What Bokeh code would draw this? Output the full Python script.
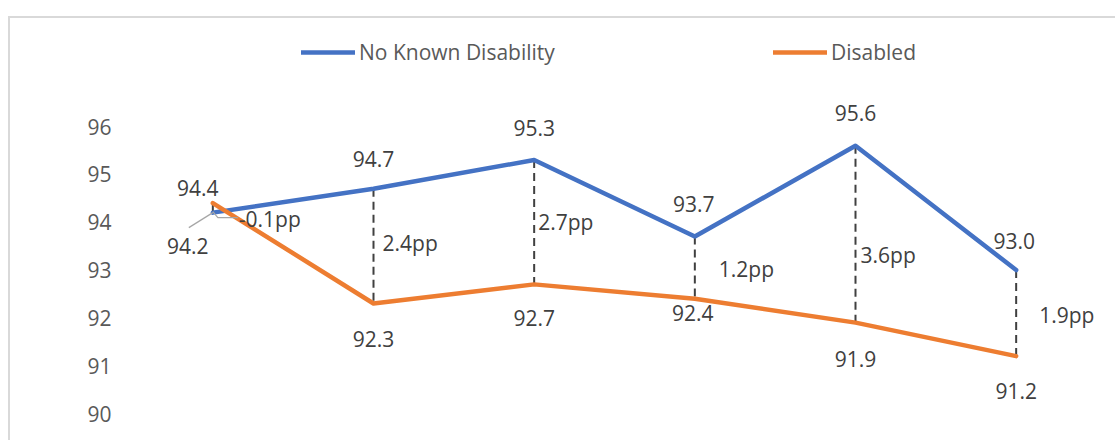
from bokeh.plotting import figure
from bokeh.models import Range1d, FixedTicker, Legend, LegendItem, ColumnDataSource
from bokeh.embed import file_html
from bokeh.resources import INLINE
from bokeh.core.properties import value

# ---------------- data ----------------
categories = ["1", "2", "3", "4", "5", "6"]
no_known_disability = [94.2, 94.7, 95.3, 93.7, 95.6, 93.0]
disabled = [94.4, 92.3, 92.7, 92.4, 91.9, 91.2]
gap_labels = ["-0.1pp", "2.4pp", "2.7pp", "1.2pp", "3.6pp", "1.9pp"]
y_ticks = [90, 91, 92, 93, 94, 95, 96]

# ---------------- styling / placement ----------------
BLUE = "#4472C4"
ORANGE = "#ED7D31"
LABEL = "#404040"
AXIS_TXT = "#595959"
FONT = "Open Sans"
FS = "21px"

blue_off = [(-25, 33), (0, -30), (0, -32), (-1, -33), (0, -33), (-2, -29)]
orange_off = [(-15, -15), (0, 35), (0, 34), (-2, 14), (0, 36), (0, 35)]
gap_off = [(26, 11), (9, -3), (4, 0), (24, 1), (5, 21), (23, 2)]

W, H = 1107, 424
ML, MR, MT, MB = 122, 21, 12, 0
fw, fh = W - ML - MR, H - MT - MB
x0, x1 = -0.5, 5.5
y0, y1 = 89.394, 98.008
px_x = fw / (x1 - x0)
px_y = fh / (y1 - y0)

p = figure(width=W, height=H, output_backend="svg", toolbar_location=None,
           x_range=Range1d(x0, x1), y_range=Range1d(y0, y1),
           min_border_left=ML, min_border_right=MR, min_border_top=MT, min_border_bottom=MB)
p.styles = {"margin-left": "8px", "margin-top": "16px", "overflow": "hidden",
            "border-left": "2px solid #d9d9d9", "border-top": "2px solid #d9d9d9"}
p.outline_line_color = None
p.grid.visible = False
p.xaxis.visible = False
p.yaxis.ticker = FixedTicker(ticks=y_ticks)
p.yaxis.axis_line_color = None
p.yaxis.major_tick_line_color = None
p.yaxis.minor_tick_line_color = None
p.yaxis.major_label_text_font = FONT
p.yaxis.major_label_text_font_size = FS
p.yaxis.major_label_text_color = AXIS_TXT
p.yaxis.major_label_standoff = 15
p.background_fill_color = "white"
p.border_fill_color = "white"

xs = list(range(len(categories)))
mids = [(a + b) / 2 for a, b in zip(no_known_disability, disabled)]

# dashed high-low lines
p.segment(x0=xs, y0=no_known_disability, x1=xs, y1=disabled,
          line_color="#404040", line_width=2, line_dash="8 5")

r_blue = p.line(xs, no_known_disability, line_color=BLUE, line_width=4.5,
                line_cap="round", line_join="round")
r_orange = p.line(xs, disabled, line_color=ORANGE, line_width=4.5,
                  line_cap="round", line_join="round")

# leader lines for the first point's labels
lx = xs[0]
p.segment(x0=[lx], y0=[no_known_disability[0]],
          x1=[lx - 24 / px_x], y1=[no_known_disability[0] - 15 / px_y],
          line_color="#a6a6a6", line_width=1.2)
p.line([lx, lx + 5 / px_x, lx + 25 / px_x],
       [no_known_disability[0] + 1 / px_y, no_known_disability[0] - 5 / px_y,
        no_known_disability[0] - 5 / px_y],
       line_color="#a6a6a6", line_width=1.2)

def add_labels(ys, texts, offs, align="center"):
    src = ColumnDataSource(dict(x=xs, y=ys, t=texts,
                                dx=[o[0] for o in offs], dy=[o[1] for o in offs]))
    p.text(x="x", y="y", text="t", x_offset="dx", y_offset="dy", source=src,
           text_font=value(FONT), text_font_size=FS, text_color=LABEL,
           text_align=align, text_baseline="middle")

add_labels(no_known_disability, [f"{v:.1f}" for v in no_known_disability], blue_off)
add_labels(disabled, [f"{v:.1f}" for v in disabled], orange_off)
add_labels(mids, gap_labels, gap_off, align="left")

legend = Legend(items=[LegendItem(label="No Known Disability", renderers=[r_blue]),
                       LegendItem(label="Disabled", renderers=[r_orange])],
                orientation="horizontal", location=(169, 376),
                glyph_width=54, glyph_height=20, label_standoff=4,
                label_width=414, spacing=0, padding=0, margin=0,
                border_line_color=None, background_fill_alpha=0,
                label_text_font=FONT, label_text_font_size=FS,
                label_text_color=AXIS_TXT)
p.add_layout(legend)

open("out.html", "w").write(file_html(p, INLINE))
